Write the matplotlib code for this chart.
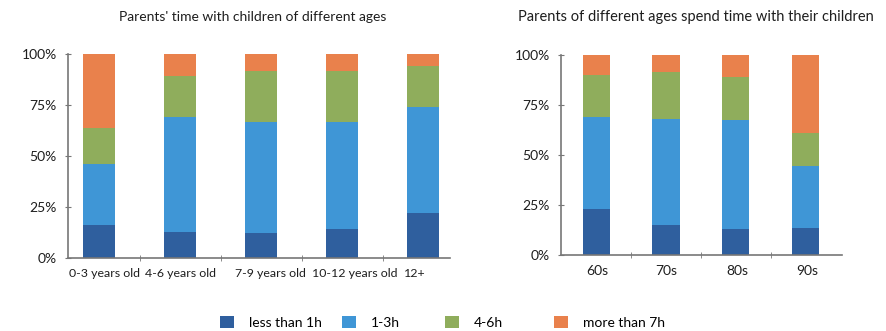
import numpy as np
import matplotlib
matplotlib.use('Agg')
import matplotlib.pyplot as plt
from matplotlib.patches import Patch

# Dữ liệu (phần trăm)
child_ages = ['0-3 years old', '4-6 years old', '7-9 years old', '10-12 years old', '12+']
child_less1 = [16, 12.7, 12.3, 14.2, 22]
child_1_3 = [30, 56.7, 54.4, 52.3, 52.3]
child_4_6 = [17.7, 20.1, 25.1, 25, 19.7]
child_more7 = [36.3, 10.5, 8.2, 8.5, 6]

parent_ages = ['60s', '70s', '80s', '90s']
parent_less1 = [23, 15, 12.8, 13.7]
parent_1_3 = [45.8, 53, 54.7, 30.8]
parent_4_6 = [21.2, 23.3, 21.7, 16.7]
parent_more7 = [10, 8.7, 10.8, 38.8]

series_names = ['less than 1h', '1-3h', '4-6h', 'more than 7h']
colors = ['#2f5f9e', '#3f96d6', '#8fad5c', '#e9814c']

plt.rcParams['font.family'] = ['Lato', 'DejaVu Sans']
txt = '#1e1e1e'

fig = plt.figure(figsize=(8.86, 3.31), dpi=100)
ax1 = fig.add_axes([0.0767, 0.2205, 0.431, 0.616])
ax2 = fig.add_axes([0.633, 0.2296, 0.317, 0.604])


def draw_stack(ax, labels, series, width, xlim, shifts, lsize):
    x = np.arange(len(labels))
    bottom = np.zeros(len(labels))
    for vals, c in zip(series, colors):
        ax.bar(x, vals, width=width, bottom=bottom, color=c, edgecolor='none')
        bottom += np.array(vals)
    ax.set_xlim(*xlim)
    ax.set_ylim(0, 100)
    ax.set_yticks([0, 25, 50, 75, 100])
    ax.set_yticklabels(['0%', '25%', '50%', '75%', '100%'], fontsize=10, color=txt)
    # nhãn trục x hơi lệch như hình gốc
    ax.set_xticks(x + np.array(shifts))
    ax.set_xticklabels(labels, fontsize=lsize, color=txt)
    ax.set_xticks(x[:-1] + 0.5, minor=True)
    ax.tick_params(axis='x', which='major', length=0, pad=7)
    ax.tick_params(axis='x', which='minor', length=4, direction='inout', color='#777777')
    ax.tick_params(axis='y', length=4, direction='inout', color='#777777', pad=6)
    for s in ['top', 'right']:
        ax.spines[s].set_visible(False)
    for s in ['left', 'bottom']:
        ax.spines[s].set_color('#777777')
        ax.spines[s].set_linewidth(1.2)


draw_stack(ax1, child_ages, [child_less1, child_1_3, child_4_6, child_more7], 0.395, (-0.383, 4.33),
           [0.07, 0.01, 0.12, 0.16, -0.1], 8.9)
draw_stack(ax2, parent_ages, [parent_less1, parent_1_3, parent_4_6, parent_more7], 0.39, (-0.51, 3.52),
           [0.01, 0.0, 0.02, 0.02], 10)

fig.text(0.285, 0.949, "Parents' time with children of different ages", ha='center', va='center', fontsize=10, color=txt)
fig.text(0.785, 0.949, 'Parents of different ages spend time with their children', ha='center', va='center', fontsize=10.5, color=txt)

# chú thích: đặt từng mục riêng
legend_x = [0.248, 0.386, 0.502, 0.625]
for c, name, lx in zip(colors, series_names, legend_x):
    fig.legend([Patch(facecolor=c, edgecolor='none')], [name], loc='center left', bbox_to_anchor=(lx, 0.027),
               frameon=False, fontsize=10, handlelength=1.0, handleheight=1.0, handletextpad=1.1,
               borderpad=0, borderaxespad=0)

fig.savefig('out.png', dpi=100)
